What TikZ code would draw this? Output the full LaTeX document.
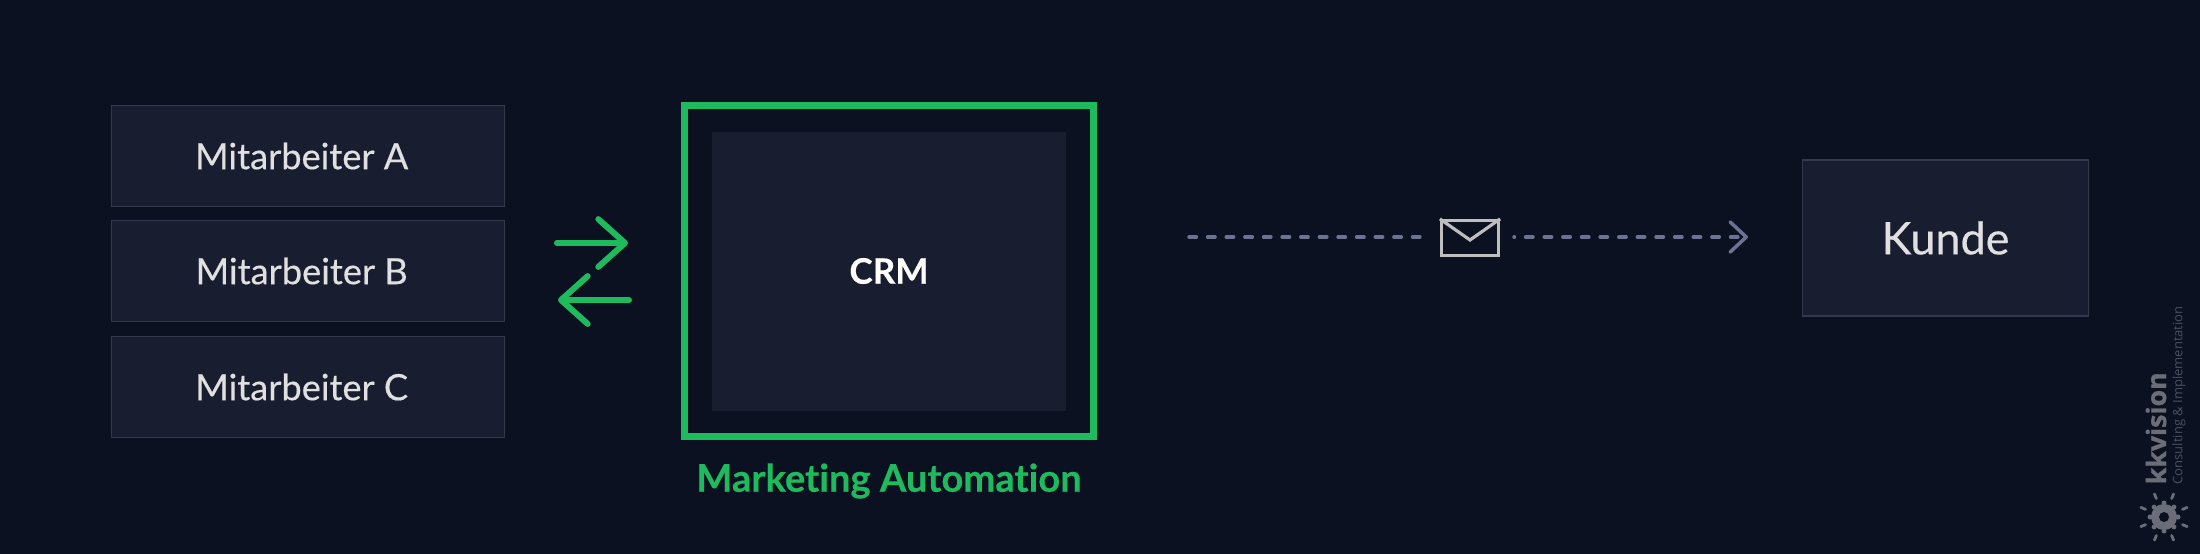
\documentclass[tikz,border=0pt]{standalone}
\usepackage{fontspec}
\setmainfont{Lato}[FakeBold=0.35, Ligatures=NoCommon]
\newfontfamily\logofont{Open Sans}[BoldFeatures={FakeBold=1.2}]
\usetikzlibrary{arrows.meta}
\definecolor{bgdark}{HTML}{0B1120}
\definecolor{boxfill}{HTML}{181D30}
\definecolor{boxline}{HTML}{33384D}
\definecolor{mcgreen}{HTML}{1EBB5E}
\definecolor{dashgrey}{HTML}{6C7293}
\definecolor{labelgrey}{HTML}{E0E0E0}
\definecolor{logogrey}{HTML}{6B6E78}
\definecolor{logodim}{HTML}{4C4F5E}
\tikzset{
	staffbox/.style={draw=boxline, fill=boxfill, line width=0.4pt, minimum width=3.93cm, minimum height=1.01cm, inner sep=0pt, text=labelgrey, font=\fontsize{10.3}{12}\selectfont},
	syncarrow/.style={draw=mcgreen, line width=1.7pt, line cap=round, -{Straight Barb[length=7.6pt, width=13.6pt, line width=1.7pt, round]}},
	mailarrow/.style={draw=dashgrey, line width=1pt, line cap=round, dash pattern=on 2.1pt off 3.2pt},
}
\begin{document}
\begin{tikzpicture}[x=1cm, y=1cm]
	\useasboundingbox (0,0) rectangle (22,5.53);
	\fill[bgdark] (-0.1,-0.1) rectangle (22.1,5.63);
	% left column
	\node[staffbox] (staffa) at (3.08,3.97) {Mitarbeiter A\hspace*{3.6pt}};
	\node[staffbox] (staffb) at (3.08,2.82) {Mitarbeiter B\hspace*{3.6pt}};
	\node[staffbox] (staffc) at (3.08,1.66) {Mitarbeiter C\hspace*{3.6pt}};
	% crm with green frame
	\node[draw=mcgreen, line width=2.1pt, minimum width=4.09cm, minimum height=3.31cm, inner sep=0pt] (frame) at (8.89,2.82) {};
	\node[fill=boxfill, minimum width=3.54cm, minimum height=2.79cm, inner sep=0pt, text=white, font=\fontsize{10}{12}\selectfont\bfseries] (crm) at (8.89,2.82) {CRM};
	\node[text=mcgreen, font=\fontsize{10.85}{12}\selectfont\bfseries, inner sep=0pt] (malabel) at (8.89,0.72) {Marketing Automation};
	% arrows between staff and crm
	\coordinate (syncaa) at (5.57,3.10);
	\coordinate (syncab) at (6.28,3.10);
	\coordinate (syncba) at (6.29,2.53);
	\coordinate (syncbb) at (5.58,2.53);
	\draw[syncarrow] (syncaa) -- (syncab);
	\draw[syncarrow] (syncba) -- (syncbb);
	% customer
	\node[staffbox, minimum width=2.86cm, minimum height=1.56cm, font=\fontsize{12.8}{14}\selectfont] (kunde) at (19.455,3.15) {Kunde};
	% mail and dashed line
	\node[minimum width=0.57cm, minimum height=0.35cm, inner sep=0pt, draw=labelgrey!85!black, line width=0.9pt] (mail) at (14.70,3.15) {};
	\draw[labelgrey!85!black, line width=0.9pt] (mail.north west) -- (14.70,3.13) -- (mail.north east);
	\coordinate (mailin) at (11.89,3.16);
	\coordinate (mailout) at (17.48,3.16);
	\draw[mailarrow] (mailin) -- (14.22,3.16);
	\draw[mailarrow, dash phase=2pt, -{Straight Barb[length=4.6pt, width=8.6pt, line width=1pt, round]}] (15.14,3.16) -- (mailout);
	% logo
	\node[rotate=90, anchor=west, inner sep=0pt, text=logogrey, font=\logofont\fontsize{7.6}{9}\selectfont\bfseries] (logoname) at (21.56,0.68) {kkvision};
	\node[rotate=90, anchor=west, inner sep=0pt, text=logodim, font=\logofont\fontsize{3.7}{5}\selectfont] (logosub) at (21.79,0.68) {Consulting \& Implementation};
	\fill[logogrey] (21.64,0.36) circle (0.13);
	\foreach \a in {0,45,...,315} {
		\fill[logogrey] (21.64,0.36) ++(\a:0.14) circle (0.025);
		\draw[logogrey, line width=0.8pt, line cap=round] (21.64,0.36) ++(\a+22.5:0.20) -- ++(\a+22.5:0.05);
	}
	\fill[bgdark] (21.64,0.36) circle (0.05);
\end{tikzpicture}
\end{document}
